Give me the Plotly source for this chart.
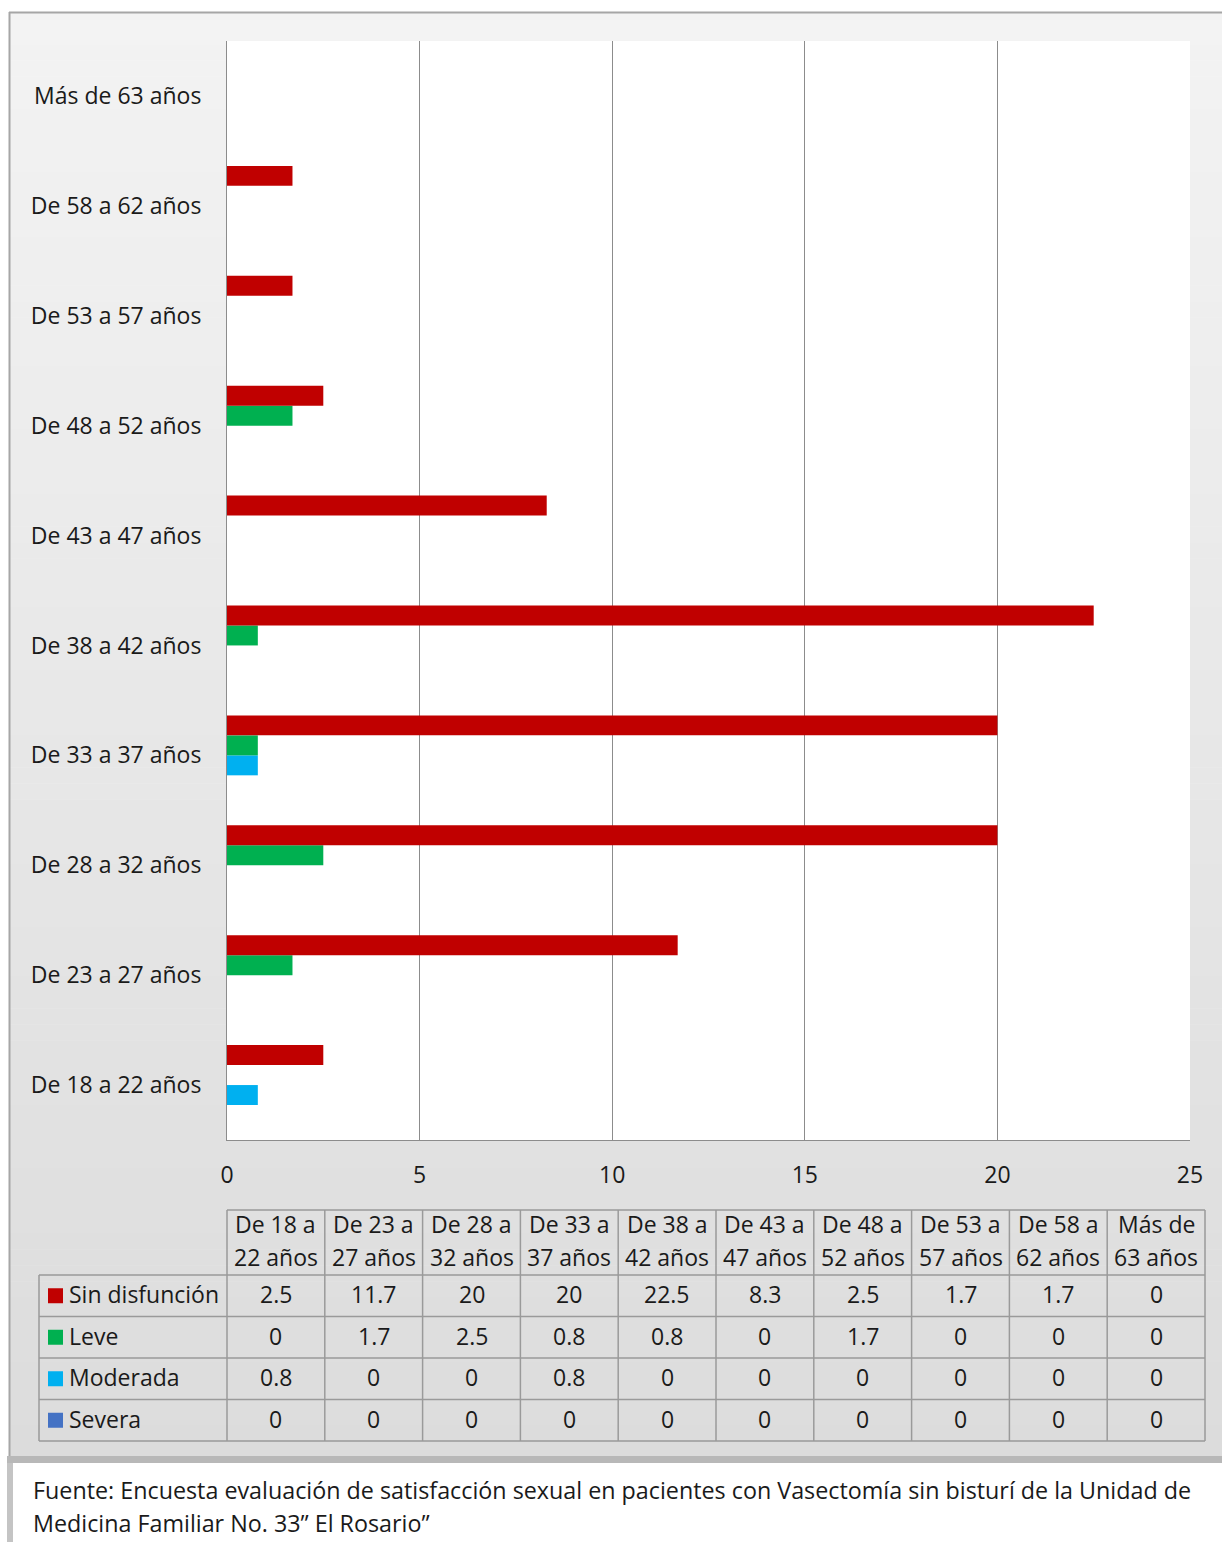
import plotly.graph_objects as go

W, H = 1222, 1542

categories = ["De 18 a 22 años", "De 23 a 27 años", "De 28 a 32 años", "De 33 a 37 años",
              "De 38 a 42 años", "De 43 a 47 años", "De 48 a 52 años", "De 53 a 57 años",
              "De 58 a 62 años", "Más de 63 años"]
sin_disfuncion = [2.5, 11.7, 20, 20, 22.5, 8.3, 2.5, 1.7, 1.7, 0]
leve = [0, 1.7, 2.5, 0.8, 0.8, 0, 1.7, 0, 0, 0]
moderada = [0.8, 0, 0, 0.8, 0, 0, 0, 0, 0, 0]
severa = [0, 0, 0, 0, 0, 0, 0, 0, 0, 0]
series_names = ["Sin disfunción", "Leve", "Moderada", "Severa"]
series_values = [sin_disfuncion, leve, moderada, severa]
series_colors = ["#C00000", "#00B050", "#00B0F0", "#4472C4"]
x_ticks = [0, 5, 10, 15, 20, 25]
footer_lines = ["Fuente: Encuesta evaluación de satisfacción sexual en pacientes con Vasectomía sin bisturí de la Unidad de",
                "Medicina Familiar No. 33\u201d El Rosario\u201d"]

FONT = "Open Sans"
TXT = "#1a1a1a"
TF = 23


def px(x):
    return x / W


def py(y):
    return 1 - y / H


fig = go.Figure()

# plotly places the first trace at the bottom of each group -> add in reverse
for name, vals, col in reversed(list(zip(series_names, series_values, series_colors))):
    fig.add_trace(go.Bar(y=categories, x=vals, name=name, orientation="h",
                         marker=dict(color=col, line=dict(width=0)), showlegend=False))

shapes = []
annotations = []

# chart area background gradient (stripes)
top, bot = 12, 1458
n = 90
c0, c1 = (243, 243, 243), (220, 220, 220)
for i in range(n):
    t = i / (n - 1)
    c = tuple(round(a + (b - a) * t) for a, b in zip(c0, c1))
    y0 = top + (bot - top) * i / n
    y1 = top + (bot - top) * (i + 1) / n + 0.6
    shapes.append(dict(type="rect", xref="paper", yref="paper", layer="below",
                       x0=px(9), x1=px(W), y0=py(y0), y1=py(y1),
                       fillcolor="rgb(%d,%d,%d)" % c, line=dict(width=0)))
# plot area white
shapes.append(dict(type="rect", xref="paper", yref="paper", layer="below",
                   x0=px(227), x1=px(1190), y0=py(1140), y1=py(41),
                   fillcolor="white", line=dict(width=0)))
# chart borders
shapes.append(dict(type="line", xref="paper", yref="paper", x0=px(9.5), x1=px(9.5),
                   y0=py(12), y1=py(1460), line=dict(color="#a6a6a6", width=2)))
shapes.append(dict(type="line", xref="paper", yref="paper", x0=px(9), x1=px(W),
                   y0=py(12.5), y1=py(12.5), line=dict(color="#a6a6a6", width=2)))
shapes.append(dict(type="rect", xref="paper", yref="paper", x0=px(7), x1=px(W),
                   y0=py(1463), y1=py(1456), fillcolor="#b8b8b8", line=dict(width=0)))
# footer box
shapes.append(dict(type="rect", xref="paper", yref="paper", x0=px(13), x1=px(W),
                   y0=py(H), y1=py(1463), fillcolor="white", line=dict(width=0)))
shapes.append(dict(type="rect", xref="paper", yref="paper", x0=px(7), x1=px(13),
                   y0=py(H), y1=py(1463), fillcolor="#c4c4c4", line=dict(width=0)))

# data table
LC = "#9a9a9a"
col_x0, col_w = 227, 97.8
cols = [col_x0 + i * col_w for i in range(len(categories) + 1)]
row_lines = [1275, 1316.5, 1358, 1399.5, 1441]
header_top = 1210
shapes.append(dict(type="line", xref="paper", yref="paper", x0=px(cols[0]), x1=px(cols[-1]),
                   y0=py(header_top), y1=py(header_top), line=dict(color=LC, width=1.5)))
for y in row_lines:
    shapes.append(dict(type="line", xref="paper", yref="paper", x0=px(39), x1=px(cols[-1]),
                       y0=py(y), y1=py(y), line=dict(color=LC, width=1.5)))
for x in cols:
    shapes.append(dict(type="line", xref="paper", yref="paper", x0=px(x), x1=px(x),
                       y0=py(header_top), y1=py(row_lines[-1]), line=dict(color=LC, width=1.5)))
shapes.append(dict(type="line", xref="paper", yref="paper", x0=px(39), x1=px(39),
                   y0=py(row_lines[0]), y1=py(row_lines[-1]), line=dict(color=LC, width=1.5)))

for i, cat in enumerate(categories):
    words = cat.split()
    l1 = " ".join(words[:-2])
    l2 = " ".join(words[-2:])
    cx = (cols[i] + cols[i + 1]) / 2
    for txt, yy in [(l1, 1224), (l2, 1257)]:
        annotations.append(dict(xref="paper", yref="paper", x=px(cx), y=py(yy), text=txt,
                                showarrow=False, xanchor="center", yanchor="middle",
                                font=dict(family=FONT, size=TF, color=TXT)))
for r, (name, vals, col) in enumerate(zip(series_names, series_values, series_colors)):
    yc = (row_lines[r] + row_lines[r + 1]) / 2
    shapes.append(dict(type="rect", xref="paper", yref="paper", x0=px(48), x1=px(63),
                       y0=py(yc + 7.5), y1=py(yc - 7.5), fillcolor=col, line=dict(width=0)))
    annotations.append(dict(xref="paper", yref="paper", x=px(67), y=py(yc - 1.5), text=name,
                            showarrow=False, xanchor="left", yanchor="middle",
                            font=dict(family=FONT, size=TF, color=TXT)))
    for i, v in enumerate(vals):
        cx = (cols[i] + cols[i + 1]) / 2
        annotations.append(dict(xref="paper", yref="paper", x=px(cx), y=py(yc - 1.5), text=f"{v:g}",
                                showarrow=False, xanchor="center", yanchor="middle",
                                font=dict(family=FONT, size=TF, color=TXT)))

for txt, yy in zip(footer_lines, [1490, 1523]):
    annotations.append(dict(xref="paper", yref="paper", x=px(31), y=py(yy), text=txt,
                            showarrow=False, xanchor="left", yanchor="middle",
                            font=dict(family=FONT, size=23.3, color=TXT)))

fig.update_layout(
    width=W, height=H,
    margin=dict(l=0, r=0, t=0, b=0, autoexpand=False),
    paper_bgcolor="white", plot_bgcolor="white",
    barmode="group", bargap=30 / 110, bargroupgap=0,
    shapes=shapes, annotations=annotations,
    xaxis=dict(domain=[px(227), px(1190)], range=[0, 25], tickvals=x_ticks,
               showgrid=True, gridcolor="#8c8c8c", gridwidth=1, zeroline=False,
               showline=True, linecolor="#8c8c8c", linewidth=1, ticks="",
               automargin=False, ticklabelstandoff=14,
               tickfont=dict(family=FONT, size=TF, color=TXT)),
    yaxis=dict(domain=[py(1140), py(41)], type="category", categoryorder="array",
               categoryarray=categories, range=[-0.5, len(categories) - 0.5],
               showgrid=False, zeroline=False, showline=True, linecolor="#8c8c8c",
               linewidth=1, ticks="", ticklabelstandoff=20, automargin=False,
               tickfont=dict(family=FONT, size=TF, color=TXT)),
)

fig.write_html("out.html", config={"displayModeBar": False},
               post_script="document.body.style.margin='0';document.body.style.overflow='hidden';")
